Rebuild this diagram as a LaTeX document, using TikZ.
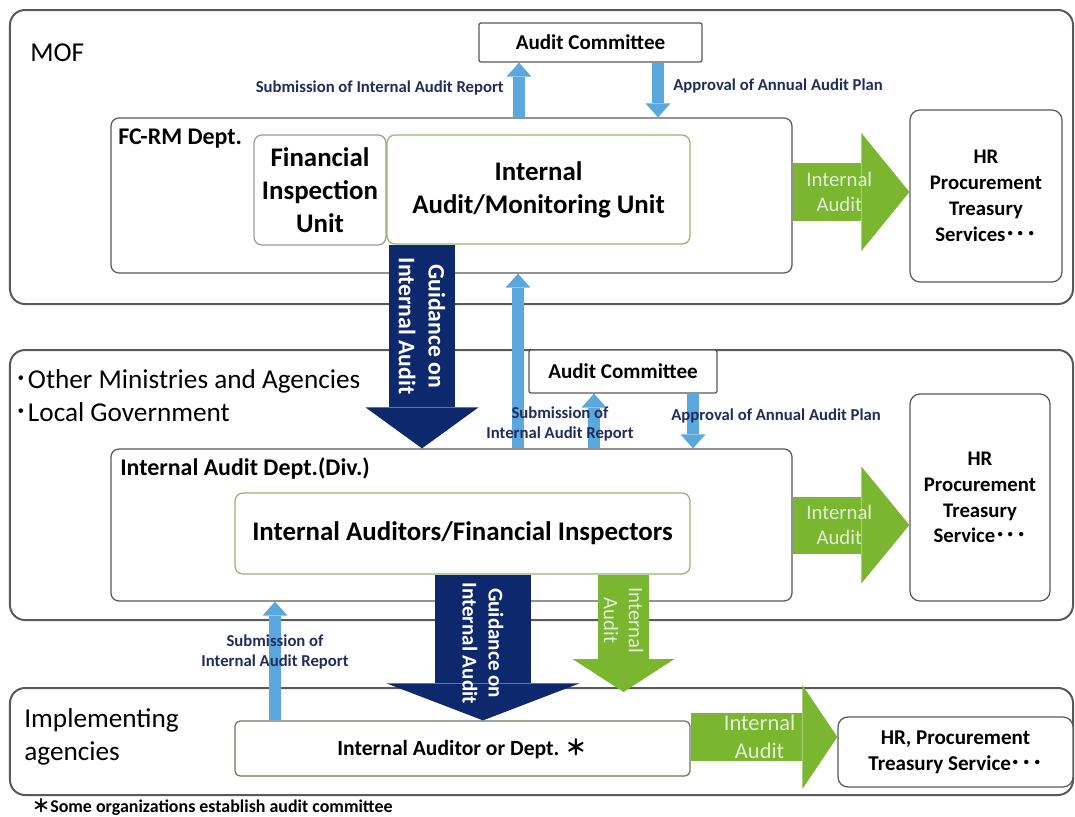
\documentclass[tikz,border=0pt]{standalone}
\usepackage{fontspec}
\setmainfont{Carlito}
\newfontfamily\cjk{Noto Sans CJK JP}
\usetikzlibrary{arrows.meta}

\definecolor{linegray}{RGB}{89,89,89}
\definecolor{boxgreen}{RGB}{150,180,110}
\definecolor{olivegray}{RGB}{105,120,90}
\definecolor{skyblue}{RGB}{90,168,222}
\definecolor{navy}{RGB}{14,40,110}
\definecolor{leaf}{RGB}{122,182,48}
\definecolor{labelnavy}{RGB}{31,45,90}

\tikzset{area/.style = {draw = linegray, line width = 0.4mm, rounded corners = 3mm}}
\tikzset{dept/.style = {draw = linegray, line width = 0.25mm, rounded corners = 1.6mm, fill = white}}
\tikzset{unit/.style = {dept, draw = boxgreen, align = center, font = \bfseries\fontsize{15.3}{18.8}\selectfont}}
\tikzset{hr/.style = {dept, rounded corners = 2mm, align = center, font = \bfseries\fontsize{11.8}{14.7}\selectfont}}
\tikzset{committee/.style = {draw = linegray, line width = 0.25mm, rounded corners = 0.4mm, fill = white, font = \bfseries\fontsize{12}{14}\selectfont}}
\tikzset{section/.style = {anchor = west, inner sep = 0pt, align = left, font = \fontsize{15.5}{18.5}\selectfont}}
\tikzset{title/.style = {anchor = west, inner sep = 0pt, font = \bfseries\fontsize{13.6}{16}\selectfont}}
\tikzset{tag/.style = {inner sep = 0pt, text = labelnavy, align = center, font = \bfseries\fontsize{9.5}{11.4}\selectfont}}
\tikzset{fat/.style n args = {3}{line width = #1, -{Triangle[width = #2, length = #3, line width = 0pt]}}}
\tikzset{report/.style = {draw = skyblue, fat = {2.5mm}{5mm}{2.8mm}}}
\tikzset{guide/.style = {draw = navy}}
\tikzset{audit/.style = {draw = leaf}}
\tikzset{guidetext/.style = {text = white, rotate = -90, align = center, font = \bfseries\fontsize{13.5}{17}\selectfont}}
\tikzset{audittext/.style = {text = white!80!leaf, align = center, font = \fontsize{11.8}{14.2}\selectfont}}

\begin{document}
\begin{tikzpicture}[x = 0.2mm, y = -0.2mm]
\useasboundingbox (0, 0) rectangle (1075, 816);

% levels
\node[area, minimum width = 212.6mm, minimum height = 58.8mm] (mof) at (541.5, 157) {};
\node[area, minimum width = 212.6mm, minimum height = 54mm] (other) at (541.5, 485) {};
\node[area, minimum width = 212.6mm, minimum height = 21.4mm] (impl) at (541.5, 741.5) {};

\node[section] (moftext) at (30, 53) {MOF};
\node[section] (othertext) at (14, 395.5) {{\cjk ･}Other Ministries and Agencies\\{\cjk ･}Local Government};
\node[section] (impltext) at (24, 737) {Implementing\\agencies};

% MOF
\node[committee, minimum width = 44.6mm, minimum height = 7.8mm] (ac1) at (590.5, 42.5) {Audit Committee};
\node[dept, minimum width = 136.2mm, minimum height = 31mm] (fcrm) at (451.5, 195.5) {};
\node[title] (fcrmtext) at (118, 139) {FC-RM Dept.};
\node[unit, draw = linegray!60, minimum width = 26.4mm, minimum height = 22mm] (fiu) at (320, 190) {Financial\\Inspection\\Unit};
\node[unit, minimum width = 60.6mm, minimum height = 21.8mm] (iamu) at (538.5, 189.5) {Internal\\Audit/Monitoring Unit};
\node[hr, minimum width = 30.4mm, minimum height = 34.4mm] (hr1) at (986, 196) {HR\\Procurement\\Treasury\\Services{\cjk ･･･}};

% ministries and local government
\node[committee, minimum width = 37.6mm, minimum height = 8.6mm] (ac2) at (623, 371.5) {Audit Committee};
\node[dept, minimum width = 136.2mm, minimum height = 30.4mm] (iad) at (451.5, 525) {};
\node[title] (iadtext) at (120, 468) {Internal Audit Dept.(Div.)};
\node[unit, minimum width = 91mm, minimum height = 16.2mm] (iafi) at (462.5, 533.5) {Internal Auditors/Financial Inspectors};
\node[hr, minimum width = 28mm, minimum height = 41.4mm] (hr2) at (980, 497.5) {HR\\Procurement\\Treasury\\Service{\cjk ･･･}};

% implementing agencies
\node[dept, draw = olivegray, rounded corners = 1mm, minimum width = 91mm, minimum height = 11mm, font = \bfseries\fontsize{12.3}{14}\selectfont] (iaod) at (462.5, 748.5) {Internal Auditor or Dept. {\cjk ＊}};
\node[hr, minimum width = 47mm, minimum height = 14mm, font = \bfseries\fontsize{12}{15}\selectfont] (hr3) at (955.5, 752) {HR, Procurement\\Treasury Service{\cjk ･･･}};
\node[anchor = west, inner sep = 0pt, font = \bfseries\fontsize{10.2}{12}\selectfont] (note) at (32, 807) {{\cjk ＊}Some organizations establish audit committee};

% reports and plans
\draw[report] (fcrm.north -| 519, 0) -- (ac1.south -| 519, 0);
\draw[report] (ac1.south -| 658, 0) -- (fcrm.north -| 658, 0);
\node[tag, anchor = east] (rep1) at (504, 88) {Submission of Internal Audit Report};
\node[tag, anchor = west] (plan1) at (673, 86) {Approval of Annual Audit Plan};

\draw[report] (iad.north -| 518, 0) -- (fcrm.south -| 518, 0);
\draw[report] (iad.north -| 594, 0) -- (ac2.south -| 594, 0);
\draw[report] (ac2.south -| 693, 0) -- (iad.north -| 693, 0);

\draw[report] (iaod.north -| 275, 0) -- (iad.south -| 275, 0);

% guidance
\draw[guide, fat = {13.2mm}{22.6mm}{8.2mm}] (iamu.south -| 422, 0) -- node[pos = 0.4, guidetext] {Guidance on\\Internal Audit} (iad.north -| 422, 0);
\draw[guide, fat = {19.2mm}{38.6mm}{7.4mm}] (iafi.south -| 483, 0) -- node[pos = 0.47, guidetext, font = \bfseries\fontsize{12}{14.8}\selectfont] {Guidance on\\Internal Audit} (iaod.north -| 483, 0);

% internal audit
\draw[audit, fat = {11.6mm}{23.6mm}{9.6mm}] (fcrm.east |- 0, 192) -- node[pos = 0.4, audittext] {Internal\\Audit} (hr1.west |- 0, 192);
\draw[audit, fat = {11.4mm}{23.4mm}{9.6mm}] (iad.east |- 0, 525) -- node[pos = 0.4, audittext] {Internal\\Audit} (hr2.west |- 0, 525);
\coordinate (drop) at (623.5, 692);
\draw[audit, fat = {10.2mm}{20.4mm}{6.6mm}] (iafi.south -| drop) -- node[pos = 0.39, audittext, rotate = -90] {Internal\\Audit} (drop);
\draw[audit, fat = {9.6mm}{20.8mm}{7mm}] (iaod.east |- 0, 737) -- node[pos = 0.47, audittext, font = \fontsize{12.8}{15.8}\selectfont] {Internal\\Audit} (hr3.west |- 0, 737);

\node[tag] (rep2) at (560, 424) {Submission of\\Internal Audit Report};
\node[tag, anchor = west] (plan2) at (671, 416) {Approval of Annual Audit Plan};
\node[tag] (rep3) at (275, 652) {Submission of\\Internal Audit Report};
\end{tikzpicture}
\end{document}
